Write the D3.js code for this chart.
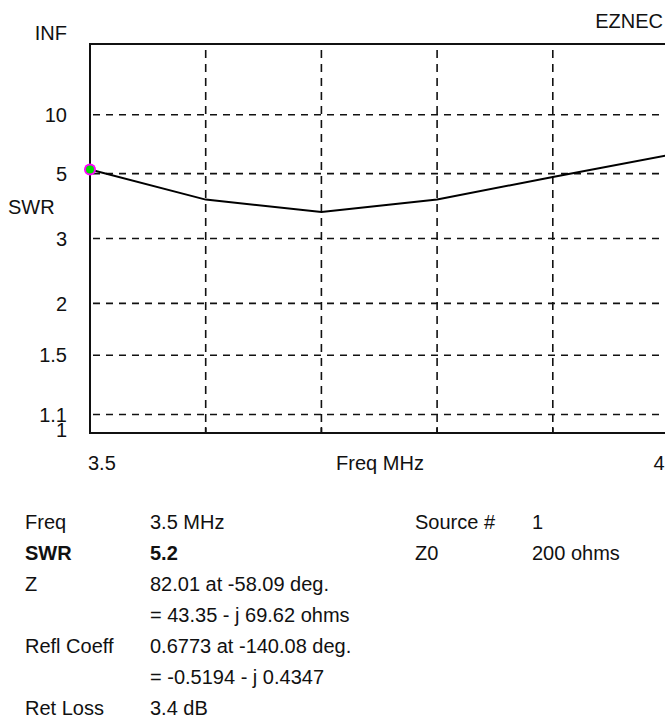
<!DOCTYPE html>
<html>
<head>
<meta charset="utf-8">
<script src="https://cdn.jsdelivr.net/npm/d3@7"></script>
<style>
  html, body { margin: 0; padding: 0; background: #fff; }
  svg { display: block; }
  text { font-family: "Liberation Sans", Arial, sans-serif; fill: #111; }
</style>
</head>
<body>
<svg id="chart" width="665" height="721"></svg>
<script>
// ---- data ----
const freqs = [3.5, 3.6, 3.7, 3.8, 3.9, 4.0];
const swrValues = [5.2, 4.0, 3.63, 4.0, 4.85, 6.0];
const yTickValues = [Infinity, 10, 5, 3, 2, 1.5, 1.1, 1];
const yTickLabels = ["INF", "10", "5", "3", "2", "1.5", "1.1", "1"];
const xGridValues = [3.6, 3.7, 3.8, 3.9];
const xTickValues = [3.5, 4.0];
const xTickLabels = ["3.5", "4"];
const infoLeft = ["Freq", "SWR", "Z", "", "Refl Coeff", "", "Ret Loss"];
const infoValues = ["3.5 MHz", "5.2", "82.01 at -58.09 deg.", "= 43.35 - j 69.62 ohms",
                    "0.6773 at -140.08 deg.", "= -0.5194 - j 0.4347", "3.4 dB"];
const infoRight = ["Source #", "Z0"];
const infoRightValues = ["1", "200 ohms"];
const boldRows = [1];

// ---- layout ----
const svg = d3.select("#chart");
const fs = 20;
const plotLeft = 90, plotTop = 44, plotBottom = 433, plotRight = 665;

const x = d3.scaleLinear().domain([3.5, 4.0]).range([plotLeft, 668.5]);
const rhoScale = d3.scaleLinear().domain([0, 1]).range([plotBottom, plotTop]);
const rho = s => (s === Infinity ? 1 : (s - 1) / (s + 1));
const y = s => rhoScale(rho(s));

// gridlines
const gh = svg.append("g");
gh.selectAll("line.h").data(yTickValues.filter(v => v !== Infinity && v !== 1)).join("line")
  .attr("x1", plotLeft).attr("x2", plotRight)
  .attr("y1", d => y(d)).attr("y2", d => y(d))
  .attr("stroke", "#111").attr("stroke-width", 1.6)
  .attr("stroke-dasharray", "7,6").attr("stroke-dashoffset", -3);
gh.selectAll("line.v").data(xGridValues).join("line")
  .attr("x1", d => x(d)).attr("x2", d => x(d))
  .attr("y1", plotTop).attr("y2", plotBottom)
  .attr("stroke", "#111").attr("stroke-width", 1.6)
  .attr("stroke-dasharray", "8,6").attr("stroke-dashoffset", -6);
gh.selectAll("line.vt").data(xGridValues).join("line")
  .attr("x1", d => x(d)).attr("x2", d => x(d))
  .attr("y1", plotBottom - 6).attr("y2", plotBottom)
  .attr("stroke", "#111").attr("stroke-width", 1.6);

// frame
const frame = svg.append("g").attr("stroke", "#111").attr("stroke-width", 2).attr("fill", "none");
frame.append("line").attr("x1", plotLeft).attr("x2", plotRight).attr("y1", plotTop).attr("y2", plotTop);
frame.append("line").attr("x1", plotLeft).attr("x2", plotRight).attr("y1", plotBottom).attr("y2", plotBottom);
frame.append("line").attr("x1", plotLeft).attr("x2", plotLeft).attr("y1", plotTop - 1).attr("y2", plotBottom + 1);

// curve
const line = d3.line().x((d, i) => x(freqs[i])).y(d => y(d));
svg.append("path").datum(swrValues)
  .attr("d", line).attr("fill", "none").attr("stroke", "#000").attr("stroke-width", 2);

// marker at first point
svg.append("circle").attr("cx", x(freqs[0])).attr("cy", y(swrValues[0]))
  .attr("r", 6).attr("fill", "#ff00ff");
svg.append("circle").attr("cx", x(freqs[0])).attr("cy", y(swrValues[0]))
  .attr("r", 4).attr("fill", "#00dd00");

// y labels
svg.append("g").selectAll("text").data(yTickValues).join("text")
  .attr("x", 67)
  .attr("y", d => d === Infinity ? y(d) - 11 : (d === 1 ? y(d) - 3 : y(d)))
  .attr("dy", "0.36em")
  .attr("text-anchor", "end")
  .attr("font-size", fs)
  .text((d, i) => yTickLabels[i]);
svg.append("text").attr("x", 8).attr("y", 207).attr("dy", "0.36em")
  .attr("font-size", fs).text("SWR");
svg.append("text").attr("x", 663).attr("y", 21).attr("dy", "0.36em")
  .attr("text-anchor", "end").attr("font-size", fs).text("EZNEC");

// x labels
svg.append("g").selectAll("text").data(xTickValues).join("text")
  .attr("x", d => d === 3.5 ? x(d) - 2 : x(d) - 4)
  .attr("y", 463).attr("dy", "0.36em")
  .attr("text-anchor", d => d === 3.5 ? "start" : "end")
  .attr("font-size", fs)
  .text((d, i) => xTickLabels[i]);
svg.append("text").attr("x", 380).attr("y", 463).attr("dy", "0.36em")
  .attr("text-anchor", "middle").attr("font-size", fs).text("Freq MHz");

// info block
const rowY = i => 522 + i * 31;
const info = svg.append("g").attr("font-size", fs);
info.selectAll("text.l").data(infoLeft).join("text")
  .attr("x", 25).attr("y", (d, i) => rowY(i)).attr("dy", "0.36em")
  .attr("font-weight", (d, i) => boldRows.includes(i) ? "bold" : "normal")
  .text(d => d);
info.selectAll("text.v").data(infoValues).join("text")
  .attr("x", 150).attr("y", (d, i) => rowY(i)).attr("dy", "0.36em")
  .attr("font-weight", (d, i) => boldRows.includes(i) ? "bold" : "normal")
  .text(d => d);
info.selectAll("text.r").data(infoRight).join("text")
  .attr("x", 415).attr("y", (d, i) => rowY(i)).attr("dy", "0.36em")
  .text(d => d);
info.selectAll("text.rv").data(infoRightValues).join("text")
  .attr("x", 532).attr("y", (d, i) => rowY(i)).attr("dy", "0.36em")
  .text(d => d);
</script>
</body>
</html>
